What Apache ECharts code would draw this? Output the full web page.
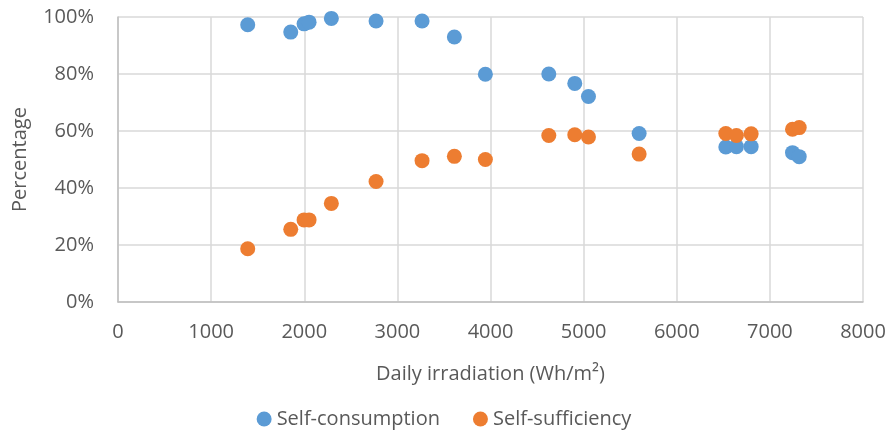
<!DOCTYPE html>
<html>
<head>
<meta charset="utf-8">
<script src="https://cdn.jsdelivr.net/npm/echarts@6/dist/echarts.min.js"></script>
<style>
  html, body { margin: 0; padding: 0; background: #fff; }
  #chart { width: 888px; height: 432px; }
</style>
</head>
<body>
<div id="chart"></div>
<script>
// Daily irradiation (Wh/m²) for each measured day
const irradiation = [1393, 1855, 1998, 2052, 2291, 2771, 3265, 3612, 3945, 4626, 4905, 5052, 5596, 6527, 6641, 6799, 7243, 7315];
// Self-consumption ratio (%)
const selfConsumption = [97.3, 94.7, 97.6, 98.2, 99.5, 98.6, 98.6, 93.0, 79.9, 80.0, 76.7, 72.1, 59.1, 54.4, 54.5, 54.5, 52.4, 51.0];
// Self-sufficiency ratio (%)
const selfSufficiency = [18.7, 25.5, 28.8, 28.8, 34.6, 42.3, 49.6, 51.1, 50.0, 58.4, 58.7, 57.9, 51.9, 59.1, 58.4, 59.0, 60.6, 61.2];

const seriesNames = ['Self-consumption', 'Self-sufficiency'];
const xTicks = [0, 1000, 2000, 3000, 4000, 5000, 6000, 7000, 8000];
const yTicks = [0, 20, 40, 60, 80, 100];

const font = 'Open Sans, Liberation Sans, sans-serif';
const textColor = '#595959';

const pairs = (xs, ys) => xs.map((x, i) => [x, ys[i]]);

const chart = echarts.init(document.getElementById('chart'));
chart.setOption({
  animation: false,
  grid: { left: 118, right: 25, top: 17, bottom: 130, containLabel: false, outerBoundsMode: 'none' },
  legend: {
    data: seriesNames,
    bottom: -2,
    left: 'center',
    icon: 'circle',
    itemWidth: 15,
    itemHeight: 15,
    itemGap: 33,
    textStyle: { color: textColor, fontSize: 20, fontFamily: font }
  },
  xAxis: {
    type: 'value',
    min: xTicks[0],
    max: xTicks[xTicks.length - 1],
    interval: 1000,
    name: 'Daily irradiation (Wh/m²)',
    nameLocation: 'middle',
    nameGap: 62,
    nameTextStyle: { color: textColor, fontSize: 20, fontFamily: font },
    axisLine: { lineStyle: { color: '#bfbfbf', width: 1.5 } },
    axisTick: { show: false },
    axisLabel: { color: textColor, fontSize: 20, fontFamily: font, margin: 20, formatter: v => String(v) },
    splitLine: { lineStyle: { color: '#d9d9d9', width: 1.5 } }
  },
  yAxis: {
    type: 'value',
    min: yTicks[0],
    max: yTicks[yTicks.length - 1],
    interval: 20,
    name: 'Percentage',
    nameLocation: 'middle',
    nameGap: 88,
    nameTextStyle: { color: textColor, fontSize: 20, fontFamily: font },
    axisLine: { show: true, lineStyle: { color: '#bfbfbf', width: 1.5 } },
    axisTick: { show: false },
    axisLabel: { color: textColor, fontSize: 20, fontFamily: font, margin: 24, formatter: '{value}%' },
    splitLine: { lineStyle: { color: '#d9d9d9', width: 1.5 } }
  },
  series: [
    {
      name: seriesNames[0],
      type: 'scatter',
      symbolSize: 15,
      itemStyle: { color: '#5b9bd5', opacity: 1 },
      data: pairs(irradiation, selfConsumption)
    },
    {
      name: seriesNames[1],
      type: 'scatter',
      symbolSize: 15,
      itemStyle: { color: '#ed7d31', opacity: 1 },
      data: pairs(irradiation, selfSufficiency)
    }
  ]
});
</script>
</body>
</html>
